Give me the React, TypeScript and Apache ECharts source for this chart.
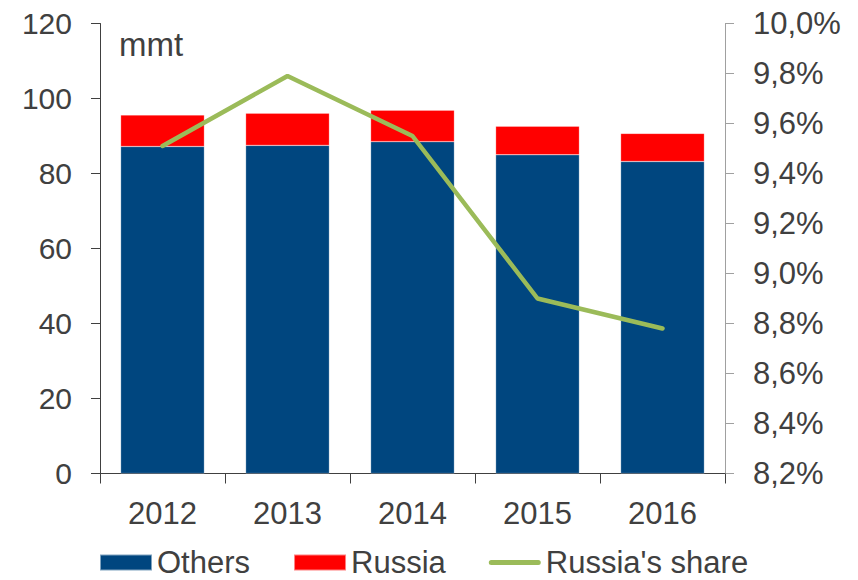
import React, { useEffect, useRef } from "react";
import * as echarts from "echarts";

const categories = ["2012", "2013", "2014", "2015", "2016"];
const others = [87.2, 87.5, 88.5, 85.0, 83.2];
const russia = [8.4, 8.6, 8.4, 7.6, 7.5];
const russiaShare = [9.51, 9.79, 9.55, 8.9, 8.78];

const FONT = "'Liberation Sans', Arial, sans-serif";
const TXT = "#404040";
const LINE_ICON =
  "path://M0,0 L0.01,0 L0,0.01 Z M52,16 L51.99,16 L52,15.99 Z M2.5,5.5 L49.5,5.5 A2.5,2.5 0 0 1 49.5,10.5 L2.5,10.5 A2.5,2.5 0 0 1 2.5,5.5 Z";

export default function App() {
  const ref = useRef<HTMLDivElement>(null);
  useEffect(() => {
    if (!ref.current) return;
    const chart = echarts.init(ref.current, null, { renderer: "svg" });
    chart.setOption({
      animation: false,
      textStyle: { fontFamily: FONT },
      grid: { left: 100, right: 133, top: 23.5, bottom: 106.5, containLabel: false },
      legend: {
        left: 99,
        top: 547,
        padding: 0,
        itemWidth: 52,
        itemHeight: 16,
        itemGap: 43,
        textStyle: { fontSize: 31, lineHeight: 24, color: TXT, fontFamily: FONT },
        data: [
          { name: "Others", icon: "rect" },
          { name: "Russia", icon: "rect" },
          { name: "Russia's share", icon: LINE_ICON, itemStyle: { color: "#9BBB59", borderWidth: 0 } },
        ],
      },
      graphic: [
        {
          type: "text",
          x: 119,
          y: 44,
          style: { text: "mmt", fontSize: 33, fill: TXT, fontFamily: FONT, verticalAlign: "middle" },
        },
      ],
      xAxis: {
        type: "category",
        data: categories,
        axisLine: { lineStyle: { color: "#404040", width: 1 } },
        axisTick: { show: true, length: 10, alignWithLabel: false, lineStyle: { color: "#404040" } },
        axisLabel: { fontSize: 31, color: TXT, margin: 24, fontFamily: FONT },
      },
      yAxis: [
        {
          type: "value",
          min: 0,
          max: 120,
          interval: 20,
          splitLine: { show: false },
          axisLine: { show: true, lineStyle: { color: "#404040" } },
          axisTick: { show: true, length: 9, lineStyle: { color: "#404040" } },
          axisLabel: { fontSize: 30, color: TXT, margin: 28, fontFamily: FONT },
        },
        {
          type: "value",
          min: 8.2,
          max: 10.0,
          interval: 0.2,
          position: "right",
          splitLine: { show: false },
          axisLine: { show: true, lineStyle: { color: "#A0A0A0" } },
          axisTick: { show: true, length: 9, lineStyle: { color: "#A0A0A0" } },
          axisLabel: {
            fontSize: 31,
            color: TXT,
            margin: 28,
            fontFamily: FONT,
            formatter: (v: number) => v.toFixed(1).replace(".", ",") + "%",
          },
        },
      ],
      series: [
        {
          name: "Others",
          type: "bar",
          stack: "total",
          data: others,
          barWidth: "67%",
          itemStyle: { color: "#00467F", borderColor: "rgba(255,255,255,0.5)", borderWidth: 0.5 },
        },
        {
          name: "Russia",
          type: "bar",
          stack: "total",
          data: russia,
          barWidth: "67%",
          itemStyle: { color: "#FF0000", borderColor: "rgba(255,255,255,0.5)", borderWidth: 0.5 },
        },
        {
          name: "Russia's share",
          type: "line",
          yAxisIndex: 1,
          data: russiaShare,
          symbol: "none",
          lineStyle: { color: "#9BBB59", width: 4.5, cap: "round" },
          itemStyle: { color: "#9BBB59" },
        },
      ],
    });
    return () => chart.dispose();
  }, []);
  return <div ref={ref} style={{ width: 858, height: 580, marginLeft: -8, marginTop: -8 }} />;
}
